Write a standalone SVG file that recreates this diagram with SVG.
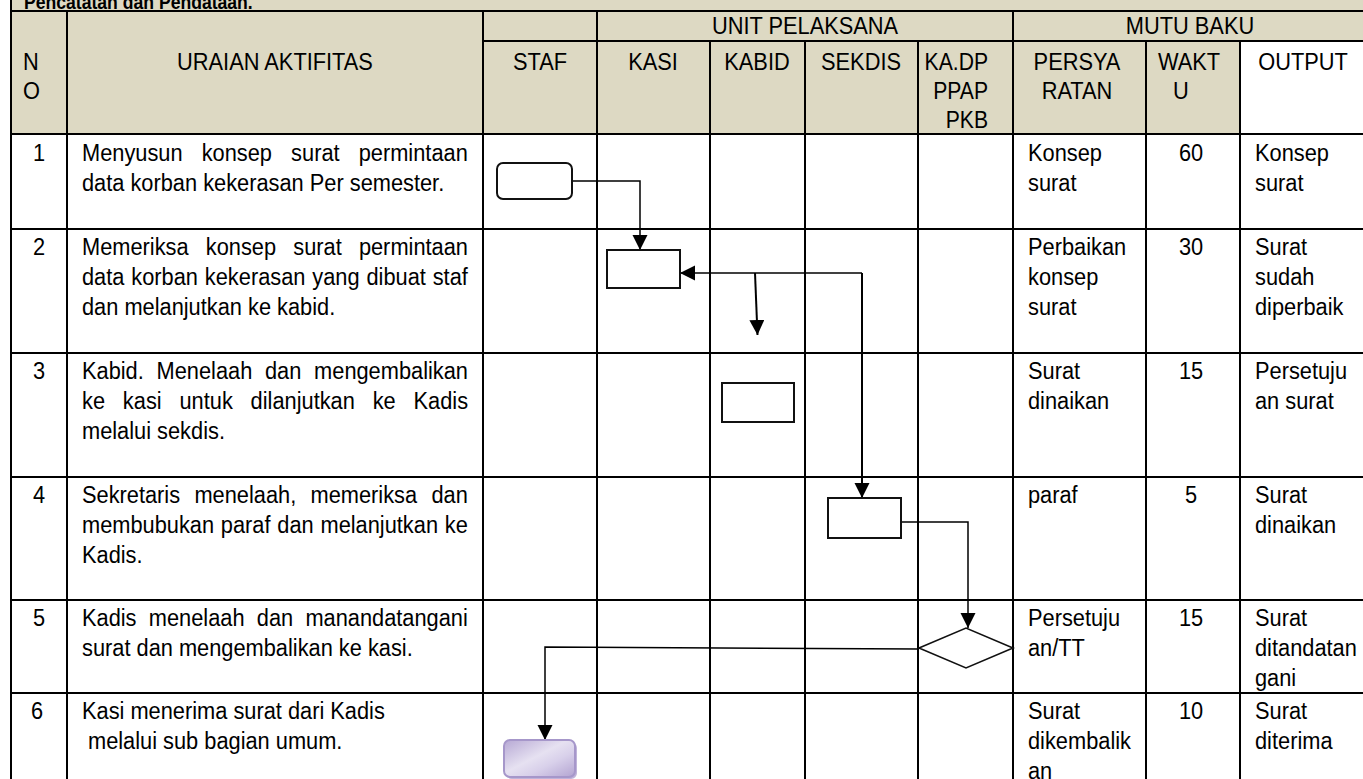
<svg xmlns="http://www.w3.org/2000/svg" width="1363" height="779" viewBox="0 0 1363 779">
<style>
.t{font-family:"Liberation Sans",Arial,sans-serif;font-size:23.5px;fill:#000}
.b{font-weight:bold;font-size:20px}
.m{text-anchor:middle}
.e{text-anchor:end}
.ln{stroke:#000;stroke-width:2;fill:none}
.shape{fill:#fff;stroke:#111;stroke-width:2}
.con{stroke:#000;stroke-width:2;fill:none}
.thin{stroke-width:1.5}
</style>
<defs>
<marker id="ah" markerUnits="userSpaceOnUse" markerWidth="16" markerHeight="16" refX="15" refY="7.5" orient="auto">
<path d="M0,0 L15,7.5 L0,15 z" fill="#000"/>
</marker>
<linearGradient id="pg" x1="0" y1="0" x2="1" y2="1">
<stop offset="0" stop-color="#B6A8D4"/>
<stop offset="0.45" stop-color="#E6E1F1"/>
<stop offset="0.65" stop-color="#D8D0EA"/>
<stop offset="1" stop-color="#B2A3D1"/>
</linearGradient>
</defs>

<g id="table">
<rect x="11" y="0" width="1352" height="134" fill="#DDD9C3"/>
<rect x="1240" y="41" width="123" height="93" fill="#fff"/>
<rect x="11" y="134" width="1352" height="645" fill="#fff"/>
<g class="ln">
<path d="M11,0V779M67,11V779M483,11V779M597,11V779M1013,11V779M710,41V779M805,41V779M918,41V779M1146,41V779M1240,41V779"/>
<path d="M11,11H1363M483,41H1363M11,134H1363M11,229H1363M11,353H1363M11,477H1363M11,600H1363M11,693H1363"/>
</g>
</g>

<g id="header">
<text class="t b" transform="translate(24,9) scale(.88,1)">Pencatatan dan Pendataan.</text>
<text class="t m" transform="translate(805,34) scale(.928,1)">UNIT PELAKSANA</text>
<text class="t m" transform="translate(1190,34) scale(.928,1)">MUTU BAKU</text>
<text class="t" transform="translate(23,70) scale(.928,1)">N</text>
<text class="t" transform="translate(23,99) scale(.928,1)">O</text>
<text class="t m" transform="translate(275,70) scale(.928,1)">URAIAN AKTIFITAS</text>
<text class="t m" transform="translate(540,70) scale(.928,1)">STAF</text>
<text class="t m" transform="translate(653,70) scale(.928,1)">KASI</text>
<text class="t m" transform="translate(757,70) scale(.928,1)">KABID</text>
<text class="t m" transform="translate(861,70) scale(.928,1)">SEKDIS</text>
<text class="t e" transform="translate(988,70) scale(.9,1)">KA.DP</text>
<text class="t e" transform="translate(988,99) scale(.9,1)">PPAP</text>
<text class="t e" transform="translate(988,128) scale(.9,1)">PKB</text>
<text class="t m" transform="translate(1077,70) scale(.928,1)">PERSYA</text>
<text class="t m" transform="translate(1077,99) scale(.928,1)">RATAN</text>
<text class="t" transform="translate(1158,70) scale(.928,1)">WAKT</text>
<text class="t" transform="translate(1173,99) scale(.928,1)">U</text>
<text class="t m" transform="translate(1303,70) scale(.928,1)">OUTPUT</text>
</g>

<g id="row1">
<text class="t m" transform="translate(39,161) scale(.928,1)">1</text>
<text class="t" style="word-spacing:14.1px" transform="translate(82,161) scale(.928,1)">Menyusun konsep surat permintaan</text>
<text class="t" transform="translate(82,191) scale(.928,1)">data korban kekerasan Per semester.</text>
<text class="t" transform="translate(1028,161) scale(.928,1)">Konsep</text>
<text class="t" transform="translate(1028,191) scale(.928,1)">surat</text>
<text class="t m" transform="translate(1191,161) scale(.928,1)">60</text>
<text class="t" transform="translate(1255,161) scale(.928,1)">Konsep</text>
<text class="t" transform="translate(1255,191) scale(.928,1)">surat</text>
</g>

<g id="row2">
<text class="t m" transform="translate(39,255) scale(.928,1)">2</text>
<text class="t" style="word-spacing:12px" transform="translate(82,255) scale(.928,1)">Memeriksa konsep surat permintaan</text>
<text class="t" style="word-spacing:0.9px" transform="translate(82,285) scale(.928,1)">data korban kekerasan yang dibuat staf</text>
<text class="t" transform="translate(82,315) scale(.928,1)">dan melanjutkan ke kabid.</text>
<text class="t" transform="translate(1028,255) scale(.928,1)">Perbaikan</text>
<text class="t" transform="translate(1028,285) scale(.928,1)">konsep</text>
<text class="t" transform="translate(1028,315) scale(.928,1)">surat</text>
<text class="t m" transform="translate(1191,255) scale(.928,1)">30</text>
<text class="t" transform="translate(1255,255) scale(.928,1)">Surat</text>
<text class="t" transform="translate(1255,285) scale(.928,1)">sudah</text>
<text class="t" transform="translate(1255,315) scale(.928,1)">diperbaik</text>
</g>

<g id="row3">
<text class="t m" transform="translate(39,379) scale(.928,1)">3</text>
<text class="t" style="word-spacing:7.2px" transform="translate(82,379) scale(.928,1)">Kabid. Menelaah dan mengembalikan</text>
<text class="t" style="word-spacing:12.7px" transform="translate(82,409) scale(.928,1)">ke kasi untuk dilanjutkan ke Kadis</text>
<text class="t" transform="translate(82,439) scale(.928,1)">melalui sekdis.</text>
<text class="t" transform="translate(1028,379) scale(.928,1)">Surat</text>
<text class="t" transform="translate(1028,409) scale(.928,1)">dinaikan</text>
<text class="t m" transform="translate(1191,379) scale(.928,1)">15</text>
<text class="t" transform="translate(1255,379) scale(.928,1)">Persetuju</text>
<text class="t" transform="translate(1255,409) scale(.928,1)">an surat</text>
</g>

<g id="row4">
<text class="t m" transform="translate(39,503) scale(.928,1)">4</text>
<text class="t" style="word-spacing:8.9px" transform="translate(82,503) scale(.928,1)">Sekretaris menelaah, memeriksa dan</text>
<text class="t" style="word-spacing:0.8px" transform="translate(82,533) scale(.928,1)">membubukan paraf dan melanjutkan ke</text>
<text class="t" transform="translate(82,563) scale(.928,1)">Kadis.</text>
<text class="t" transform="translate(1028,503) scale(.928,1)">paraf</text>
<text class="t m" transform="translate(1191,503) scale(.928,1)">5</text>
<text class="t" transform="translate(1255,503) scale(.928,1)">Surat</text>
<text class="t" transform="translate(1255,533) scale(.928,1)">dinaikan</text>
</g>

<g id="row5">
<text class="t m" transform="translate(39,626) scale(.928,1)">5</text>
<text class="t" style="word-spacing:6.7px" transform="translate(82,626) scale(.928,1)">Kadis menelaah dan manandatangani</text>
<text class="t" transform="translate(82,656) scale(.928,1)">surat dan mengembalikan ke kasi.</text>
<text class="t" transform="translate(1028,626) scale(.928,1)">Persetuju</text>
<text class="t" transform="translate(1028,656) scale(.928,1)">an/TT</text>
<text class="t m" transform="translate(1191,626) scale(.928,1)">15</text>
<text class="t" transform="translate(1255,626) scale(.928,1)">Surat</text>
<text class="t" transform="translate(1255,656) scale(.928,1)">ditandatan</text>
<text class="t" transform="translate(1255,686) scale(.928,1)">gani</text>
</g>

<g id="row6">
<text class="t m" transform="translate(37,719) scale(.928,1)">6</text>
<text class="t" transform="translate(82,719) scale(.928,1)">Kasi menerima surat dari Kadis</text>
<text class="t" transform="translate(88,749) scale(.928,1)">melalui sub bagian umum.</text>
<text class="t" transform="translate(1028,719) scale(.928,1)">Surat</text>
<text class="t" transform="translate(1028,749) scale(.928,1)">dikembalik</text>
<text class="t" transform="translate(1028,779) scale(.928,1)">an</text>
<text class="t m" transform="translate(1191,719) scale(.928,1)">10</text>
<text class="t" transform="translate(1255,719) scale(.928,1)">Surat</text>
<text class="t" transform="translate(1255,749) scale(.928,1)">diterima</text>
</g>

<g id="connectors">
<path class="con thin" d="M573,181H640V250" marker-end="url(#ah)"/>
<path class="con thin" d="M862,273H680" marker-end="url(#ah)"/>
<path class="con" d="M862,273V498" marker-end="url(#ah)"/>
<path class="con" d="M755,273L757.5,335" marker-end="url(#ah)"/>
<path class="con thin" d="M901,522H968V628" marker-end="url(#ah)"/>
<path class="con thin" d="M919,649L545,647V740" marker-end="url(#ah)"/>
</g>

<g id="node-staf-start"><rect class="shape" x="497" y="163" width="75" height="36" rx="6"/></g>
<g id="node-kasi-check"><rect class="shape" x="607" y="250" width="73" height="38"/></g>
<g id="node-kabid-review"><rect class="shape" x="722" y="383" width="72" height="39"/></g>
<g id="node-sekdis-review"><rect class="shape" x="828" y="498" width="73" height="40"/></g>
<g id="node-kadis-decision"><polygon class="shape" style="stroke-width:1.6" points="919,648 966,628 1013,648 966,668"/></g>
<g id="node-kasi-receive">
<rect x="506" y="742" width="71" height="37" rx="6" fill="#BFB3DA"/>
<rect x="504" y="740" width="71" height="37" rx="6" fill="url(#pg)" stroke="#A697CA" stroke-width="2"/>
</g>
</svg>
